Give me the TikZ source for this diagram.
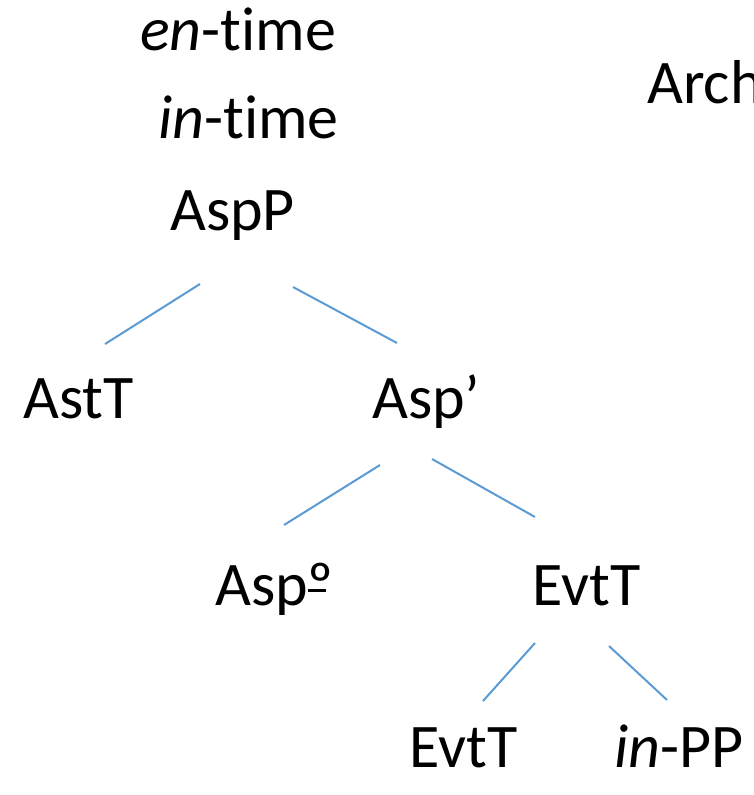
\documentclass[tikz,border=0pt]{standalone}
\usepackage{fontspec}
\setmainfont[Ligatures=NoCommon]{Carlito}
\usepackage{tikz}
\usepackage{xcolor}
\usetikzlibrary{positioning}

\definecolor{branch}{HTML}{5B9BD5}
\newcommand{\ordmasc}{\rlap{º}\raisebox{0.21em}{\rule{0.29em}{0.05em}}}
\tikzset{
    lbl/.style={anchor=base west, inner sep=0pt, font=\fontsize{62}{64}\selectfont},
    edge/.style={draw=branch, line width=2pt}
}

\begin{document}
\begin{tikzpicture}[x=1pt, y=-1pt]
        \useasboundingbox (0, 0) rectangle (753, 795);
        \clip (0, 0) rectangle (753, 795);

        \node[lbl] (en) at (140, 50) {\textit{en}-time};
        \node[lbl] (in) at (158, 138) {\textit{in}-time};
        \node[lbl] (arch) at (647, 103) {Arch};
        \node[lbl] (aspp) at (170, 230) {AspP};
        \node[lbl] (astt) at (23, 418) {AstT};
        \node[lbl] (aspbar) at (372, 418) {Asp’};
        \node[lbl] (asphead) at (215, 605) {Asp\ordmasc};
        \node[lbl] (evtt) at (532, 605) {EvtT};
        \node[lbl] (evttl) at (409, 767) {EvtT};
        \node[lbl] (inpp) at (614, 767) {\textit{in}-PP};

        % branch ends
        \coordinate (aspp-l) at (200, 284);
        \coordinate (aspp-r) at (293, 287);
        \coordinate (astt-t) at (105, 344);
        \coordinate (aspbar-t) at (397, 343);
        \coordinate (aspbar-l) at (380, 465);
        \coordinate (aspbar-r) at (432, 459);
        \coordinate (asphead-t) at (284, 525);
        \coordinate (evtt-t) at (535, 517);
        \coordinate (evtt-l) at (535, 643);
        \coordinate (evtt-r) at (609, 646);
        \coordinate (evttl-t) at (483, 701);
        \coordinate (inpp-t) at (667, 700);

        \draw[edge] (aspp-l) to (astt-t)
            (aspp-r) to (aspbar-t)
            (aspbar-l) to (asphead-t)
            (aspbar-r) to (evtt-t)
            (evtt-l) to (evttl-t)
            (evtt-r) to (inpp-t);
\end{tikzpicture}
\end{document}
